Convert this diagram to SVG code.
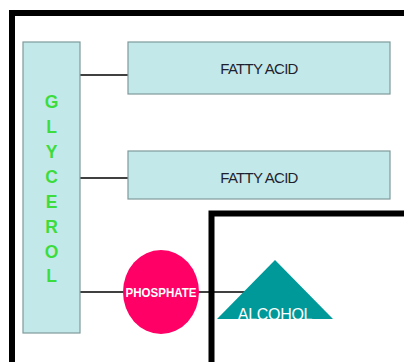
<svg xmlns="http://www.w3.org/2000/svg" width="404" height="362" viewBox="0 0 404 362">
<style>
.box{fill:#c2e8ea;stroke:#7f9a9c;stroke-width:1.2}
.frame{fill:none;stroke:#000;stroke-width:6}
.conn{stroke:#000;stroke-width:1.4}
.fa{font-family:"Liberation Sans",Arial,sans-serif;font-size:15px;fill:#1f1f2e;letter-spacing:-0.7px;text-anchor:middle}
.gl{font-family:"Liberation Sans",Arial,sans-serif;font-size:17.5px;font-weight:bold;fill:#3ddc3d;text-anchor:middle}
</style>
<rect width="404" height="362" fill="#fff"/>
<path class="frame" d="M12,366 V13 H408"/>
<path class="frame" d="M211.5,366 V213.5 H408" stroke-width="5"/>
<g id="connectors">
<line class="conn" x1="80" y1="75" x2="128" y2="75"/>
<line class="conn" x1="80" y1="178" x2="128" y2="178"/>
<line class="conn" x1="80" y1="292" x2="246" y2="292"/>
</g>
<g id="glycerol">
<rect class="box" x="23" y="42" width="57" height="291"/>
<text class="gl" x="51.5" y="108">G</text>
<text class="gl" x="51.5" y="133">L</text>
<text class="gl" x="51.5" y="158">Y</text>
<text class="gl" x="51.5" y="183">C</text>
<text class="gl" x="51.5" y="208">E</text>
<text class="gl" x="51.5" y="233">R</text>
<text class="gl" x="51.5" y="258">O</text>
<text class="gl" x="51.5" y="282">L</text>
</g>
<g id="fatty1">
<rect class="box" x="128" y="42" width="262" height="52"/>
<text class="fa" x="259" y="74">FATTY ACID</text>
</g>
<g id="fatty2">
<rect class="box" x="128" y="151" width="262" height="48"/>
<text class="fa" x="259" y="183">FATTY ACID</text>
</g>
<g id="phosphate">
<ellipse cx="161" cy="292" rx="38" ry="42" fill="#ff0066"/>
<text x="161" y="297" font-family="Liberation Sans,Arial,sans-serif" font-size="13" font-weight="bold" fill="#fff" text-anchor="middle" textLength="71" lengthAdjust="spacingAndGlyphs">PHOSPHATE</text>
</g>
<g id="alcohol">
<polygon points="275,260 333,319 217,319" fill="#009999"/>
<text x="275" y="320" font-family="Liberation Sans,Arial,sans-serif" font-size="16" fill="#fff" text-anchor="middle" letter-spacing="-0.3">ALCOHOL</text>
</g>
</svg>
